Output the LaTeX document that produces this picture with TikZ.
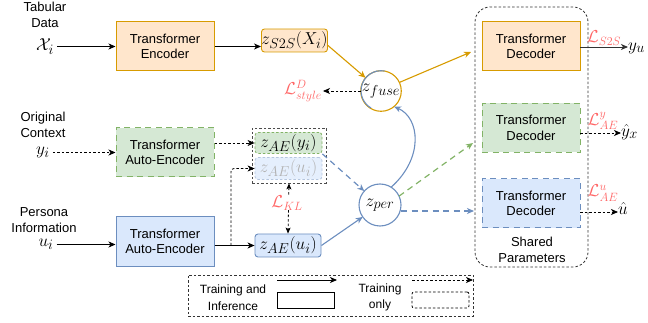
\documentclass[tikz,border=0pt]{standalone}
\usepackage{fontspec}
\newfontfamily\arialf{Liberation Sans}
\usetikzlibrary{arrows.meta}
\definecolor{orF}{HTML}{FFE6CC}
\definecolor{orD}{HTML}{D79B00}
\definecolor{grF}{HTML}{D5E8D4}
\definecolor{grD}{HTML}{82B366}
\definecolor{blF}{HTML}{DAE8FC}
\definecolor{blD}{HTML}{6C8EBF}
\definecolor{lossR}{HTML}{FF6666}
\tikzset{
  tbox/.style={draw, line width=1pt, minimum width=98pt, minimum height=49pt, inner sep=0pt, align=center, font=\arialf\fontsize{13}{15.5}\selectfont},
  zbox/.style={draw, rounded corners=3pt, line width=0.9pt, inner sep=0pt, font=\fontsize{19}{22}\selectfont},
  mth/.style={inner sep=3pt, font=\fontsize{19}{22}\selectfont},
  lab/.style={align=center, inner sep=0pt, font=\arialf\fontsize{13}{16}\selectfont},
  leglab/.style={align=center, inner sep=0pt, font=\arialf\fontsize{12}{16.5}\selectfont},
  loss/.style={text=lossR, inner sep=1pt, font=\fontsize{17}{20}\selectfont},
  arr/.style={-{Stealth[length=7pt,width=6pt,inset=2pt]}, line width=0.9pt},
  tdash/.style={dash pattern=on 2.5pt off 2pt, line width=0.8pt},
  cdash/.style={dash pattern=on 6pt off 4.5pt, line width=1.2pt},
  zcirc/.style={circle, draw=blD, fill=white, line width=1.1pt, inner sep=0pt, outer sep=0pt, font=\fontsize{19}{22}\selectfont}
}
\begin{document}
\begin{tikzpicture}[x=1pt,y=-1pt]
\useasboundingbox (0,0) rectangle (648,323);

% left labels
\node[lab] (tabl) at (45,15) {Tabular\\Data};
\node[mth] (Xi) at (45,46.5) {$\mathcal{X}_i$};
\node[lab] (origl) at (43,125) {Original\\Context};
\node[mth] (yi) at (43,152.5) {$y_i$};
\node[lab] (persl) at (44,220) {Persona\\Information};
\node[mth] (ui) at (46,244.5) {$u_i$};

% encoders
\node[tbox, fill=orF, draw=orD] (enc) at (165,46.5) {Transformer\\Encoder};
\node[tbox, fill=grF, draw=grD, cdash, line width=1pt] (aeY) at (165,152.5) {Transformer\\Auto-Encoder};
\node[tbox, fill=blF, draw=blD] (aeU) at (165,241.5) {Transformer\\Auto-Encoder};

% latent boxes
\node[zbox, fill=orF, draw=orD, minimum width=65pt, minimum height=23pt] (zs2s) at (294.5,40.5) {$z_{S2S}(X_i)$};
\node[draw=black!70, tdash, minimum width=74pt, minimum height=55pt, inner sep=0pt] (grp) at (289,155.5) {};
\node[zbox, fill=grF, draw=grD, tdash, minimum width=67pt, minimum height=21pt] (zaey) at (288.5,143) {$z_{AE}(y_i)$};
\node[zbox, fill=blF!70, draw=blD!50, tdash, text=black!30, minimum width=67pt, minimum height=22pt] (zaeuf) at (288.5,168.5) {$z_{AE}(u_i)$};
\node[zbox, fill=blF, draw=blD, minimum width=66pt, minimum height=23pt] (zaeu) at (288,245.5) {$z_{AE}(u_i)$};

% circles
\node[zcirc, draw=orD, minimum size=40pt] (zfuse) at (381,91) {$z_{fuse}$};
\draw[blD, line width=1.1pt] (zfuse.80) arc[start angle=80, end angle=240, radius=20pt];
\node[zcirc, minimum size=42pt] (zper) at (380,205) {$z_{per}$};

% decoders
\node[draw=black!80, tdash, rounded corners=15pt, minimum width=113pt, minimum height=260pt, inner sep=0pt] (shared) at (531.5,137) {};
\node[lab] (sharedl) at (532,250) {Shared\\Parameters};
\node[tbox, fill=orF, draw=orD] (dec1) at (531,46.5) {Transformer\\Decoder};
\node[tbox, fill=grF, draw=grD, cdash, line width=1pt] (dec2) at (531,128) {Transformer\\Decoder};
\node[tbox, fill=blF, draw=blD, cdash, line width=1pt] (dec3) at (531,203.5) {Transformer\\Decoder};

% outputs
\node[mth, anchor=west, inner sep=0pt] (yu) at (628,48) {$y_u$};
\node[mth, anchor=west, inner sep=0pt] (yx) at (621,132) {$\hat{y}_x$};
\node[mth, anchor=west, inner sep=0pt] (uh) at (618,209) {$\hat{u}$};
\node[loss] (ls2s) at (604,38) {$\mathcal{L}_{S2S}$};
\node[loss] (lyae) at (603,121) {$\mathcal{L}^{y}_{AE}$};
\node[loss] (luae) at (603,193) {$\mathcal{L}^{u}_{AE}$};
\node[loss] (lsty) at (303,91) {$\mathcal{L}^{D}_{style}$};

% coordinates
\coordinate (in1) at (471,52);
\coordinate (in2) at (473,143);
\coordinate (in3) at (474,211);
\coordinate (br) at (231,245.5);
\coordinate (o1) at (580,47);
\coordinate (o2) at (580,133);
\coordinate (o3) at (580,212);
\coordinate (cA) at (424,158);
\coordinate (cB) at (420,118);

% left arrows
\draw[arr] (Xi.east) -- (enc.west);
\draw[arr, tdash] (yi.east) -- (aeY.west);
\draw[arr] (ui.east) -- (aeU.west |- ui.east);
\draw[arr] (enc.east) -- (zs2s.west |- enc.east);
\draw[arr, tdash] (aeY.east |- zaey.west) -- (zaey.west);
\draw[arr] (aeU.east |- zaeu.west) -- (zaeu.west);
\draw[arr, tdash, rounded corners=3pt] (br) |- (zaeuf.west);

% KL
\draw[tdash, {Stealth[length=6pt,width=5pt,inset=1.5pt]}-{Stealth[length=6pt,width=5pt,inset=1.5pt]}] (grp.south) -- (zaeu.north);
\node[loss, fill=white, inner sep=0pt] (lkl) at (287,203) {$\mathcal{L}_{KL}$};

% to circles
\draw[arr, orD, line width=1.1pt] ([yshift=-5pt]zs2s.east) -- (zfuse);
\draw[arr, tdash] (zfuse.west) -- (lsty.east);
\draw[arr, blD, cdash] (zaey.south east) -- (zper);
\draw[arr, blD, line width=1.1pt] (zaeu.east) -- (zper);
\draw[arr, blD, line width=1.1pt] (zper.58) .. controls (cA) and (cB) .. (zfuse.-50);

% to decoders
\draw[arr, orD, line width=1.1pt] (zfuse.25) -- (in1);
\draw[arr, grD, cdash] (zper.25) -- (in2);
\draw[arr, blD, cdash] (zper.east |- in3) -- (in3);

% decoder outputs
\draw[arr, black!80] (o1) -- (yu.west |- o1);
\draw[arr, tdash] (o2) -- (yx.west |- o2);
\draw[arr, tdash] (o3) -- (uh.west |- o3);

% legend
\node[draw=black!80, tdash, minimum width=285pt, minimum height=41pt, inner sep=0pt] (legend) at (330.5,295.5) {};
\node[leglab] (lgt1) at (233,297.5) {Training and\\Inference};
\node[leglab] (lgt2) at (380,297.5) {Training\\only};
\node[draw, line width=0.9pt, minimum width=57pt, minimum height=16pt, inner sep=0pt] (lgS) at (305.5,300) {};
\node[draw, tdash, rounded corners=2pt, minimum width=57pt, minimum height=16pt, inner sep=0pt] (lgD) at (440.5,300) {};
\coordinate (la1) at (277,280);
\coordinate (la2) at (337,280);
\coordinate (lb1) at (412,280);
\coordinate (lb2) at (473,280);
\draw[arr] (la1) -- (la2);
\draw[arr, tdash] (lb1) -- (lb2);
\end{tikzpicture}
\end{document}
